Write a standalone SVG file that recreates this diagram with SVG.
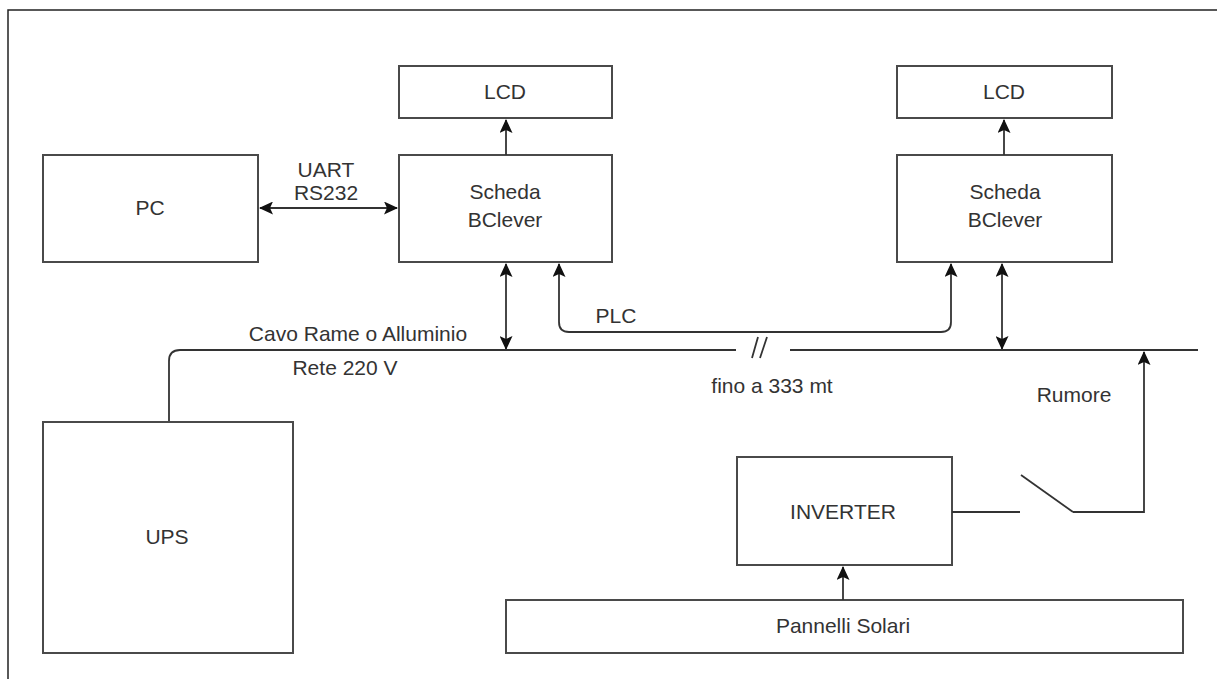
<svg xmlns="http://www.w3.org/2000/svg" width="1217" height="679" viewBox="0 0 1217 679">
<defs>
<style>
.box{fill:#fff;stroke:#4a4a4a;stroke-width:2}
.t{font-family:"Liberation Sans",Arial,sans-serif;font-size:21px;fill:#333;text-anchor:middle}
.c{fill:none;stroke:#333;stroke-width:1.8}
</style>
<marker id="ah" markerUnits="userSpaceOnUse" markerWidth="14" markerHeight="13" refX="13" refY="6.5" orient="auto-start-reverse">
<path d="M0,0 L14,6.5 L0,13 L3,6.5 z" fill="#111"/>
</marker>
</defs>
<rect width="1217" height="679" fill="#fff"/>
<path d="M8,679 V10 H1217" fill="none" stroke="#222" stroke-width="1.5"/>

<g id="lcd1"><rect class="box" x="399" y="66" width="213" height="52"/><text class="t" x="505" y="99">LCD</text></g>
<g id="lcd2"><rect class="box" x="897" y="66" width="215" height="52"/><text class="t" x="1004" y="99">LCD</text></g>
<g id="pc"><rect class="box" x="43" y="155" width="215" height="107"/><text class="t" x="150" y="215">PC</text></g>
<g id="scheda1"><rect class="box" x="399" y="155" width="213" height="107"/><text class="t" x="505" y="199">Scheda</text><text class="t" x="505" y="227">BClever</text></g>
<g id="scheda2"><rect class="box" x="897" y="155" width="215" height="107"/><text class="t" x="1005" y="199">Scheda</text><text class="t" x="1005" y="227">BClever</text></g>
<g id="ups"><rect class="box" x="43" y="422" width="250" height="231"/><text class="t" x="167" y="544">UPS</text></g>
<g id="inverter"><rect class="box" x="737" y="457" width="215" height="108"/><text class="t" x="843" y="519">INVERTER</text></g>
<g id="pannelli"><rect class="box" x="506" y="600" width="677" height="53"/><text class="t" x="843" y="633">Pannelli Solari</text></g>

<g id="connectors">
<path class="c" d="M506,155 V120" marker-end="url(#ah)"/>
<path class="c" d="M1004,155 V120" marker-end="url(#ah)"/>
<path class="c" d="M260,208 H397" marker-start="url(#ah)" marker-end="url(#ah)"/>
<path class="c" d="M506,264 V349" marker-start="url(#ah)" marker-end="url(#ah)"/>
<path class="c" d="M1002,264 V349" marker-start="url(#ah)" marker-end="url(#ah)"/>
<path class="c" d="M559,264 V322 Q559,332 569,332 H941 Q951,332 951,322 V264" marker-start="url(#ah)" marker-end="url(#ah)"/>
<path class="c" d="M169,421 V361 Q169,350 180,350 H736"/>
<path class="c" d="M790,350 H1198"/>
<path class="c" d="M752,358 L758,337 M760,358 L767,337"/>
<path class="c" d="M1073,512 H1144 V352" marker-end="url(#ah)"/>
<path class="c" d="M1021,475 L1073,512"/>
<path class="c" d="M952,512 H1020"/>
<path class="c" d="M843,600 V567" marker-end="url(#ah)"/>
</g>

<g id="labels">
<text class="t" x="326" y="177">UART</text>
<text class="t" x="326" y="200">RS232</text>
<text class="t" x="358" y="341">Cavo Rame o Alluminio</text>
<text class="t" x="345" y="375">Rete 220 V</text>
<text class="t" x="616" y="323">PLC</text>
<text class="t" x="772" y="393">fino a 333 mt</text>
<text class="t" x="1074" y="402">Rumore</text>
</g>
</svg>
